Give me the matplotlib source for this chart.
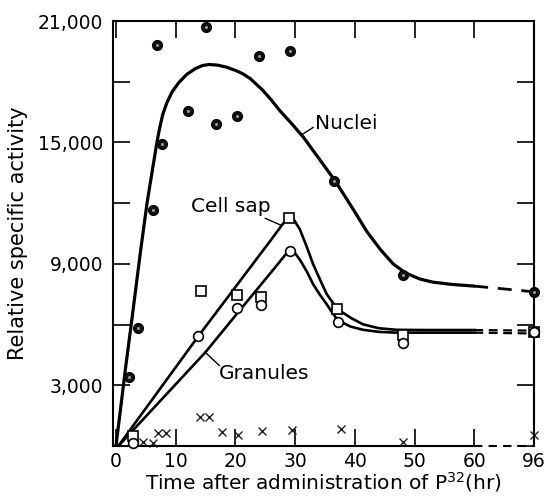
import matplotlib
matplotlib.use('Agg')
import matplotlib.pyplot as plt
import numpy as np

matplotlib.rcParams['font.family'] = 'DejaVu Sans'
matplotlib.rcParams['mathtext.default'] = 'regular'

# measured points (hours, relative specific activity)
nuclei_t = [2.2, 3.7, 6.2, 6.8, 7.7, 12, 15, 16.7, 20.3, 24, 29.1, 36.5, 48, 96]
nuclei_y = [3400, 5850, 11650, 19800, 14900, 16550, 20700, 15900, 16300, 19250, 19500, 13100, 8450, 7600]

sap_t = [2.8, 14.3, 20.3, 24.3, 29, 37, 48, 96]
sap_y = [500, 7650, 7450, 7350, 11270, 6780, 5470, 5650]

gran_t = [2.8, 13.8, 20.2, 24.3, 29.2, 37.2, 48, 96]
gran_y = [170, 5420, 6830, 6960, 9650, 6130, 5100, 5650]

other_t = [4.6, 6.2, 7.0, 8.4, 14.0, 15.5, 17.8, 20.4, 24.4, 29.4, 37.6, 48, 96]
other_y = [200, 150, 650, 650, 1450, 1420, 680, 520, 730, 780, 820, 200, 560]

# hand-drawn curves
nuc_curve_t = [0, 1.6, 2.7, 4.1, 5.2, 5.8, 6.3, 6.8, 7.2, 7.8, 8.5, 9.4, 10.5, 11.8, 13.3,
               14.5, 15.6, 17.0, 18.5, 20.1, 21.3, 22.5, 24.5, 26.0, 27.5, 29.5, 31.4, 34.0,
               36.7, 39.5, 42.0, 44.3, 46.4, 48.5, 50.9, 53.0, 56.0, 60]
nuc_curve_y = [0, 3850, 6350, 9600, 12000, 13100, 14000, 14900, 15550, 16350, 16950, 17500,
               17950, 18350, 18650, 18800, 18850, 18820, 18720, 18550, 18380, 18150, 17600,
               17100, 16550, 15900, 15250, 14200, 13100, 11800, 10600, 9700, 9000, 8550, 8250,
               8100, 7990, 7900]
nuc_dash_t = [60, 96]
nuc_dash_y = [7900, 7620]

sap_curve_t = [0.4, 13.8, 26.0, 27.5, 28.5, 29.1, 29.8, 30.8, 32.0, 33.0, 34.2, 35.3, 36.5,
               37.5, 39.5, 41.4, 44.0, 47.0, 52.0, 60]
sap_curve_y = [0, 5430, 10200, 10800, 11180, 11290, 11180, 10700, 9800, 8990, 8200, 7500,
               7000, 6680, 6300, 6010, 5820, 5740, 5730, 5730]
sap_dash_t = [60, 96]
sap_dash_y = [5730, 5700]

gran_curve_t = [0.4, 15.0, 20.3, 27.0, 28.3, 29.2, 29.9, 30.8, 32.0, 33.0, 34.2, 35.3, 36.3,
                37.2, 39.3, 41.4, 44.0, 47.0, 52.0, 60]
gran_curve_y = [0, 4640, 6550, 8950, 9430, 9650, 9560, 9200, 8600, 8000, 7450, 7000, 6550,
                6200, 5900, 5740, 5640, 5600, 5600, 5600]
gran_dash_t = [60, 96]
gran_dash_y = [5600, 5560]

tick_hours = [0, 10, 20, 30, 40, 50, 60, 96]
ytick_vals = [0, 3000, 6000, 9000, 12000, 15000, 18000, 21000]
ylabeled = [3000, 9000, 15000, 21000]


def pos(t):
    # broken time axis: 60 -> 96 hr squeezed into one division
    t = np.asarray(t, dtype=float)
    return np.where(t <= 60, t, 60 + (t - 60) * 10.0 / 36.0)


fig = plt.figure(figsize=(5.49, 4.98), dpi=100)
ax = fig.add_axes([113 / 549, 1 - 446 / 498, 421 / 549, 425 / 498])

lw = 1.9
ax.plot(pos(nuc_curve_t), nuc_curve_y, color='k', lw=2.3, solid_capstyle='round',
        solid_joinstyle='round')
ax.plot(pos(nuc_dash_t), nuc_dash_y, color='k', lw=2.0, ls=(0, (5, 3.5)))
ax.plot(pos(sap_curve_t), sap_curve_y, color='k', lw=lw, solid_joinstyle='round')
ax.plot(pos(sap_dash_t), sap_dash_y, color='k', lw=1.6, ls=(0, (4, 2.5)))
ax.plot(pos(gran_curve_t), gran_curve_y, color='k', lw=lw, solid_joinstyle='round')
ax.plot(pos(gran_dash_t), gran_dash_y, color='k', lw=1.6, ls=(0, (4, 2.5)))

ax.plot(pos(other_t), other_y, 'x', color='#222222', ms=6, mew=1.0, clip_on=False)
ax.plot(pos(sap_t), sap_y, 's', mfc='white', mec='k', ms=7, mew=1.2, clip_on=False, zorder=4)
ax.plot(pos(gran_t), gran_y, 'o', mfc='white', mec='k', ms=7, mew=1.2, clip_on=False, zorder=4)
ax.plot(pos(nuclei_t), nuclei_y, 'o', mfc='#111111', mec='k', ms=7, clip_on=False, zorder=5)
ax.plot(pos(nuclei_t), nuclei_y, 'o', mfc='#9a9a9a', mec='none', ms=2.2, clip_on=False, zorder=6)

# labels with leader lines
fs = 13.5
afs = 14.5
ax.text(19.3, 11850, 'Cell sap', fontsize=afs, ha='center', va='center')
ax.plot([25.0, 27.7], [11250, 10900], color='k', lw=1)
ax.text(33.4, 15950, 'Nuclei', fontsize=afs, ha='left', va='center')
ax.plot([31.1, 33.0], [15380, 15740], color='k', lw=1)
ax.text(17.3, 3580, 'Granules', fontsize=afs, ha='left', va='center')
ax.plot([14.9, 17.3], [4640, 3980], color='k', lw=1)

ax.set_xlim(-0.5, 70)
ax.set_ylim(0, 21000)

ax.set_xticks(pos(tick_hours))
ax.set_xticklabels([str(h) for h in tick_hours])
ax.set_yticks(ytick_vals)
ax.set_yticklabels(['{:,}'.format(v) if v in ylabeled else '' for v in ytick_vals])
ax.tick_params(axis='both', direction='in', length=12, width=1.2, labelsize=fs,
               top=True, right=True)
ax.tick_params(axis='x', pad=4)
ax.tick_params(axis='y', pad=7)

for s in ['left', 'right', 'top']:
    ax.spines[s].set_linewidth(1.5)
ax.spines['bottom'].set_visible(False)
# bottom axis: solid to 60 hr, dashed across the break
ax.plot([-0.5, 60], [0, 0], color='k', lw=1.5, clip_on=False)
ax.plot([60, 70], [0, 0], color='k', lw=1.5, ls=(0, (4, 3)), clip_on=False)

ax.set_xlabel('Time after administration of P$^{32}$(hr)', fontsize=14.5, labelpad=0)
ax.set_ylabel('Relative specific activity', fontsize=15, labelpad=7)

fig.savefig('out.png', dpi=100)
